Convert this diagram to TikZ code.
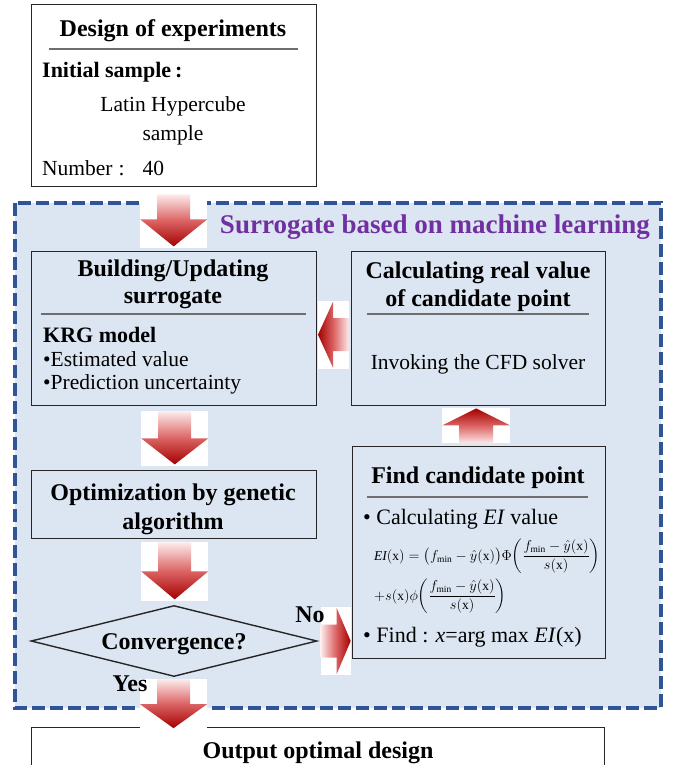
\documentclass[tikz,border=0pt]{standalone}
\usepackage{amsmath}
\usepackage{fontspec}
\setmainfont{Liberation Serif}
\usetikzlibrary{calc,shapes.geometric}
\definecolor{regionfill}{HTML}{DCE6F2}
\definecolor{regionline}{HTML}{2F5597}
\definecolor{titlepurple}{HTML}{7030A0}
\definecolor{alight}{HTML}{FDEBEB}
\definecolor{amid}{HTML}{DC6464}
\definecolor{adark}{HTML}{A50000}
\definecolor{sepgray}{HTML}{6E6E6E}
\tikzset{
  pics/dnarr/.style 2 args={code={
    \fill[white] (-33.5,0) rectangle (33.5,#1+2);
    \shade[top color=alight, bottom color=adark, middle color=amid]
      (-16.5,0) -- (16.5,0) -- (16.5,#1-#2) -- (33.5,#1-#2) -- (0,#1)
      -- (-33.5,#1-#2) -- (-16.5,#1-#2) -- cycle;
  }},
  pics/uparr/.style 2 args={code={
    \fill[white] (-34,0) rectangle (34,-#1);
    \shade[bottom color=alight, top color=adark, middle color=amid]
      (-17,0) -- (17,0) -- (17,-#1+#2) -- (34,-#1+#2) -- (0,-#1)
      -- (-34,-#1+#2) -- (-17,-#1+#2) -- cycle;
  }},
  pics/lfarr/.style 2 args={code={
    \fill[white] (0,-34) rectangle (-#1,34);
    \shade[right color=alight, left color=adark, middle color=amid]
      (0,-16.5) -- (0,16.5) -- (-#1+#2,16.5) -- (-#1+#2,33) -- (-#1,0)
      -- (-#1+#2,-33) -- (-#1+#2,-16.5) -- cycle;
  }},
  pics/rtarr/.style 2 args={code={
    \fill[white] (0,-34) rectangle (#1,34);
    \shade[left color=alight, right color=adark, middle color=amid]
      (0,-16.5) -- (0,16.5) -- (#1-#2,16.5) -- (#1-#2,33) -- (#1,0)
      -- (#1-#2,-33) -- (#1-#2,-16.5) -- cycle;
  }},
}
\begin{document}
\begin{tikzpicture}[x=1pt,y=-1pt,
  box/.style={draw=black!85, line width=1.4pt, inner sep=0pt, anchor=north west},
  ttl/.style={font=\fontsize{24}{28}\selectfont\bfseries, inner sep=0pt},
  sub/.style={font=\fontsize{22}{26}\selectfont\bfseries, inner sep=0pt, anchor=west},
  txt/.style={font=\fontsize{21.5}{26}\selectfont, inner sep=0pt},
  ltxt/.style={txt, anchor=west},
  sepline/.style={draw=sepgray, line width=1.2pt},
  formula/.style={font=\fontsize{13.5}{15}\selectfont, inner sep=0pt, anchor=west, text height=12pt, text depth=8pt},
]
\useasboundingbox (0,0) rectangle (681,765);
\fill[white] (0,0) rectangle (681,765);

% Design of experiments
\node[box, fill=white, minimum width=285, minimum height=182] (doe) at (31,4) {};
\node[ttl] (doet) at (173,30.5) {Design of experiments};
\draw[sepline] (49,49) -- (298,49);
\node[sub] (init) at (42,72.5) {Initial sample\hspace{4pt}:};
\node[txt] (lhs1) at (173,106) {Latin Hypercube};
\node[txt] (lhs2) at (173,135) {sample};
\node[ltxt] (num) at (42,168.5) {Number\hspace{6pt}:\hspace{18pt}40};

% region
\draw[fill=regionfill, draw=regionline, line width=4pt, dash pattern=on 13pt off 5pt] (15,203) rectangle (661,708);
\node[font=\fontsize{27}{30}\selectfont\bfseries, text=titlepurple, inner sep=0pt] (rt) at (435,227) {Surrogate based on machine learning};

% Building / updating
\node[box, fill=regionfill, minimum width=285, minimum height=154] (bld) at (31,251) {};
\node[ttl] (bldt1) at (173,271) {Building/Updating};
\node[ttl] (bldt2) at (173,299) {surrogate};
\draw[sepline] (41,314) -- (306,314);
\node[sub] (krg) at (43,334.5) {KRG model};
\node[ltxt] (est) at (43,359) {•Estimated value};
\node[ltxt] (pre) at (43,384) {•Prediction uncertainty};

% Calculating real value
\node[box, fill=regionfill, minimum width=254, minimum height=154] (calc) at (351,251) {};
\node[ttl] (calct1) at (478,272.5) {Calculating real value};
\node[ttl] (calct2) at (478,300.5) {of candidate point};
\draw[sepline] (367,314) -- (589,314);
\node[txt] (cfd) at (478,364.5) {Invoking the CFD solver};

% Optimization
\node[box, fill=regionfill, minimum width=285, minimum height=68] (opt) at (31,470) {};
\node[ttl] (optt1) at (173,495) {Optimization by genetic};
\node[ttl] (optt2) at (173,524) {algorithm};

% Convergence
\node[diamond, draw=black!85, line width=1.4pt, aspect=4, minimum width=286, minimum height=71, inner sep=0pt] (conv) at (174,641) {};
\node[ttl] (convt) at (174,644.5) {Convergence?};

% Find candidate point
\node[box, fill=regionfill, minimum width=253, minimum height=212] (find) at (352,446) {};
\node[ttl] (findt) at (478,478) {Find candidate point};
\draw[sepline] (367,497) -- (588,497);
\node[sub, font=\fontsize{22}{26}\selectfont] (ei) at (363,519.5) {• Calculating \textit{EI} value};
\node[formula] (f1) at (374,558) {$\mathit{EI}(\mathrm{x})=\bigl(f_{\min}-\hat{y}(\mathrm{x})\bigr)\Phi{\left(\dfrac{f_{\min}-\hat{y}(\mathrm{x})}{s(\mathrm{x})}\right)}$};
\node[formula] (f2) at (374,598) {$+s(\mathrm{x})\phi{\left(\dfrac{f_{\min}-\hat{y}(\mathrm{x})}{s(\mathrm{x})}\right)}$};
\node[sub, font=\fontsize{22}{26}\selectfont] (argmax) at (363,637) {• Find : \textit{x}=arg max \textit{EI}(x)};

% Output
\node[box, fill=white, minimum width=573, minimum height=60] (out) at (31,727) {};
\node[ttl] (outt) at (318,752.5) {Output optimal design};

% block arrows
\pic at ($(doe.south)+(-0.5,7)$) {dnarr={52}{27}};
\pic at ($(bld.south)+(0.5,5)$) {dnarr={53}{26}};
\pic at ($(opt.south)+(0.5,3)$) {dnarr={57}{28}};
\pic at ($(conv.south)+(-0.5,2)$) {dnarr={49}{24}};
\pic at ($(calc.south)+(-2.5,37)$) {uparr={35}{17}};
\pic at ($(calc.west)+(-2,6)$) {lfarr={31}{15}};
\pic at ($(conv.east)+(3,0)$) {rtarr={30}{14}};

% branch labels (over the arrows' white backgrounds)
\node[ttl] (no) at (310,614.5) {No};
\node[ttl] (yes) at (130,683.5) {Yes};
\end{tikzpicture}
\end{document}
